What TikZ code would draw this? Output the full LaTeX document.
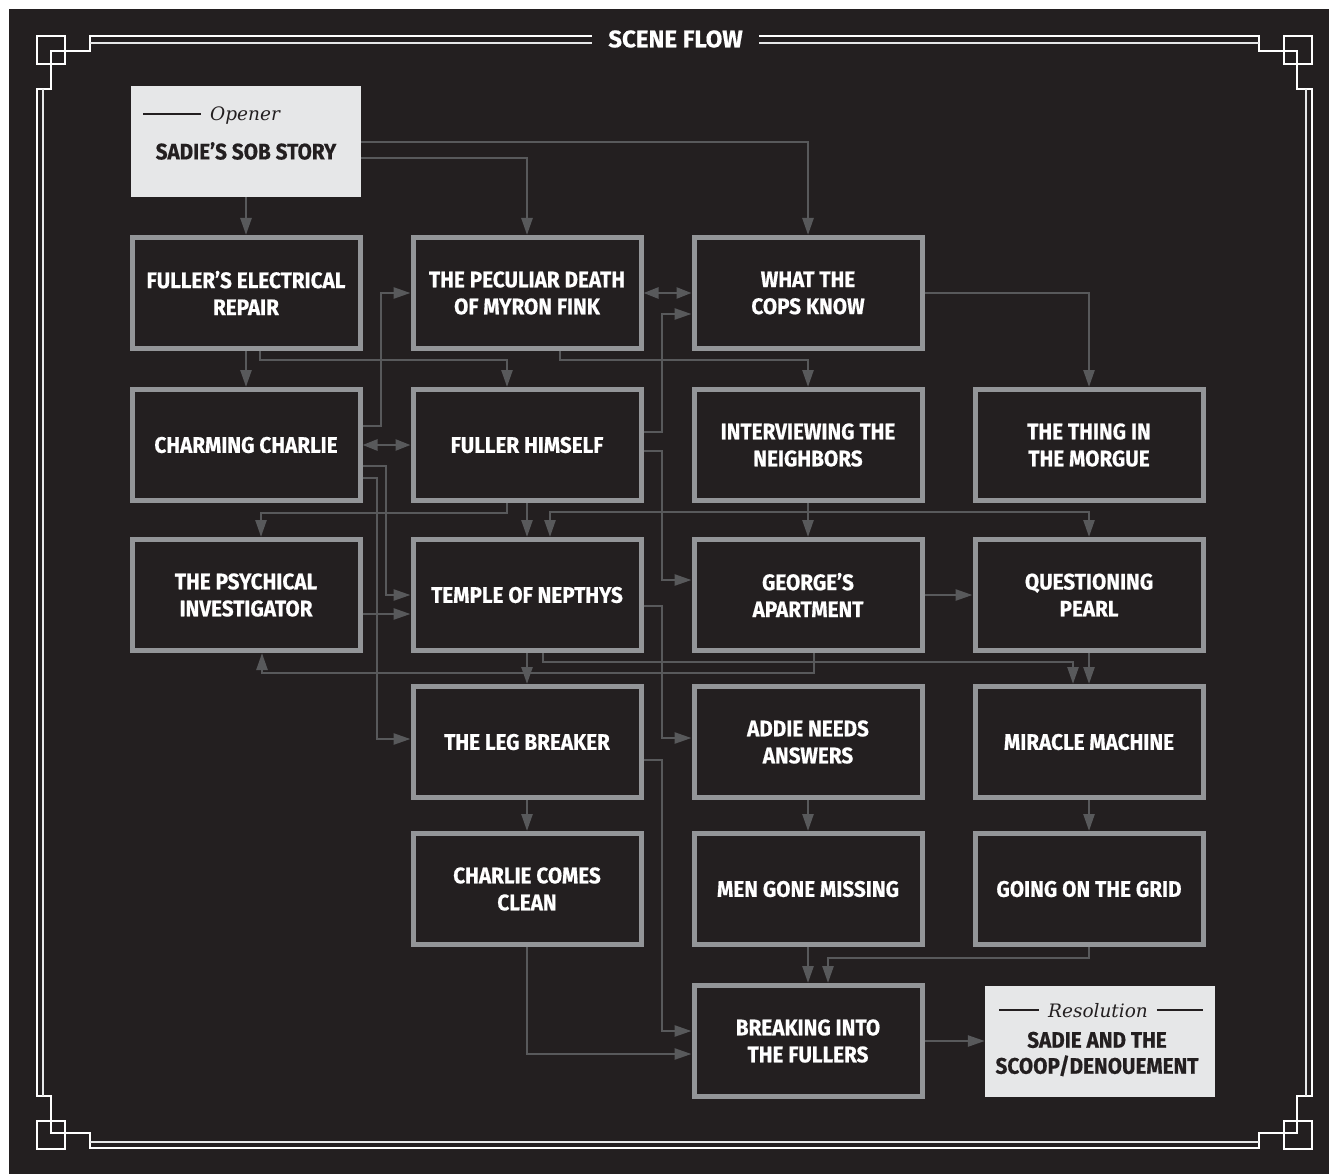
\documentclass[tikz,border=0pt]{standalone}
\usepackage{fontspec}
\usepackage{tikz}
\usetikzlibrary{arrows.meta}
\usepackage{xcolor}

\definecolor{bgdark}{HTML}{231F20}
\definecolor{boxgray}{HTML}{939598}
\definecolor{linkgray}{HTML}{58595B}
\definecolor{paper}{HTML}{E6E7E8}

\newfontfamily\scenefont[FakeStretch=0.92,FakeBold=0.6]{Fira Sans}
\newfontfamily\headfont[FakeBold=0.6]{Fira Sans}
\newfontfamily\tagfont{DejaVu Serif}

\begin{document}
\begin{tikzpicture}[x=1pt,y=-1pt]
  \tikzstyle{SceneStyle}=[draw=boxgray, line width=5pt, fill=bgdark, text=white, minimum width=228pt, minimum height=111pt, align=center, inner sep=0pt, font=\scenefont\bfseries\fontsize{22.5pt}{27pt}\selectfont]
  \tikzstyle{EndStyle}=[fill=paper, minimum width=230pt, minimum height=111pt, inner sep=0pt]
  \tikzstyle{EndText}=[text=bgdark, align=center, inner sep=0pt, font=\scenefont\bfseries\fontsize{22.5pt}{26pt}\selectfont]
  \tikzstyle{TagStyle}=[text=bgdark, inner sep=0pt, font=\tagfont\itshape\fontsize{18.5pt}{20pt}\selectfont]
  \tikzstyle{FlowStyle}=[draw=linkgray, line width=2.5pt, -{Triangle[length=17pt,width=11pt]}]
  \tikzstyle{BothStyle}=[draw=linkgray, line width=2.5pt, {Triangle[length=15pt,width=11pt]}-{Triangle[length=15pt,width=11pt]}]
  \tikzstyle{FrameStyle}=[draw=white, line width=2.4pt]
  \tikzstyle{InnerStyle}=[draw=paper, line width=1.4pt]

  \useasboundingbox (0,0) rectangle (1329,1174);
  \fill[white] (0,0) rectangle (1329,1174);
  \fill[bgdark] (9,9) rectangle (1329,1174);

  \draw[FrameStyle] (37,89) -- (51,89) -- (51,51) -- (90,51) -- (90,36) -- (1259,36) -- (1259,51) -- (1297,51) -- (1297,89) -- (1312,89) -- (1312,1096) -- (1297,1096) -- (1297,1133) -- (1259,1133) -- (1259,1148) -- (90,1148) -- (90,1133) -- (51,1133) -- (51,1096) -- (37,1096) -- cycle;
  \draw[FrameStyle] (37,36) rectangle (65,64);
  \draw[FrameStyle] (1284,36) rectangle (1312,64);
  \draw[FrameStyle] (37,1121) rectangle (65,1149);
  \draw[FrameStyle] (1284,1121) rectangle (1312,1149);
  \draw[InnerStyle] (90,43) -- (1259,43);
  \draw[InnerStyle] (43,89) -- (43,1096);
  \draw[InnerStyle] (1306,89) -- (1306,1096);
  \draw[InnerStyle] (90,1142) -- (1259,1142);
  \node[fill=bgdark, text=white, minimum width=167pt, inner ysep=5pt, font=\headfont\bfseries\fontsize{24pt}{26pt}\selectfont] (title) at (675.5,39) {SCENE FLOW};

  \node[EndStyle] (opener) at (246,141.5) {};
  \node[TagStyle, anchor=base west] (openertag) at (143,121) {\rule[6pt]{58pt}{2.4pt}\hspace{9pt}Opener};
  \node[EndText] (openertitle) at (246,151) {SADIE’S SOB STORY};

  \node[SceneStyle] (repair) at (246,293) {FULLER’S ELECTRICAL\\REPAIR};
  \node[SceneStyle] (peculiar) at (527,293) {THE PECULIAR DEATH\\OF MYRON FINK};
  \node[SceneStyle] (cops) at (808,293) {WHAT THE\\COPS KNOW};
  \node[SceneStyle] (charlie) at (246,445) {CHARMING CHARLIE};
  \node[SceneStyle] (himself) at (527,445) {FULLER HIMSELF};
  \node[SceneStyle] (neighbors) at (808,445) {INTERVIEWING THE\\NEIGHBORS};
  \node[SceneStyle] (morgue) at (1089,445) {THE THING IN\\THE MORGUE};
  \node[SceneStyle] (psychical) at (246,595) {THE PSYCHICAL\\INVESTIGATOR};
  \node[SceneStyle] (temple) at (527,595) {TEMPLE OF NEPTHYS};
  \node[SceneStyle] (george) at (808,595) {GEORGE’S\\APARTMENT};
  \node[SceneStyle] (pearl) at (1089,595) {QUESTIONING\\PEARL};
  \node[SceneStyle] (legbreaker) at (527,742) {THE LEG BREAKER};
  \node[SceneStyle] (addie) at (808,742) {ADDIE NEEDS\\ANSWERS};
  \node[SceneStyle] (miracle) at (1089,742) {MIRACLE MACHINE};
  \node[SceneStyle] (clean) at (527,889) {CHARLIE COMES\\CLEAN};
  \node[SceneStyle] (missing) at (808,889) {MEN GONE MISSING};
  \node[SceneStyle] (grid) at (1089,889) {GOING ON THE GRID};
  \node[SceneStyle] (breakin) at (808,1041) {BREAKING INTO\\THE FULLERS};

  \node[EndStyle] (resolution) at (1100,1041) {};
  \node[TagStyle, anchor=base] (resolutiontag) at (1101,1017) {\rule[6pt]{40pt}{2.4pt}\hspace{9pt}Resolution\hspace{9pt}\rule[6pt]{46pt}{2.4pt}};
  \node[EndText] (resolutiontitle) at (1097,1054) {SADIE AND THE\\SCOOP/DENOUEMENT};

  \draw[FlowStyle] (opener.south) -- (repair.north);
  \draw[FlowStyle] (opener.east |- 0,158) -| (peculiar.north);
  \draw[FlowStyle] (opener.east |- 0,142) -| (cops.north);
  \draw[BothStyle] (peculiar.east) -- (cops.west);
  \draw[FlowStyle] (repair.south) -- (charlie.north);
  \draw[FlowStyle] (repair.south -| 260,0) -- (260,360) -| (himself.north -| 507,0);
  \draw[FlowStyle] (peculiar.south -| 560,0) -- (560,360) -| (neighbors.north);
  \draw[FlowStyle] (cops.east) -| (morgue.north);
  \draw[FlowStyle] (charlie.east |- 0,426) -- (381,426) |- (peculiar.west);
  \draw[BothStyle] (charlie.east) -- (himself.west);
  \draw[FlowStyle] (himself.east |- 0,432) -- (662,432) |- (cops.west |- 0,314);
  \draw[FlowStyle] (himself.east |- 0,451) -- (662,451) |- (george.west |- 0,580);
  \draw[FlowStyle] (charlie.east |- 0,466) -- (386,466) |- (temple.west);
  \draw[FlowStyle] (charlie.east |- 0,478) -- (377,478) |- (legbreaker.west |- 0,739);
  \draw[FlowStyle] (himself.south -| 507,0) -- (507,513) -| (psychical.north -| 261,0);
  \draw[FlowStyle] (himself.south) -- (temple.north);
  \draw[FlowStyle] (neighbors.south) -- (george.north);
  \draw[FlowStyle] (neighbors.south |- 0,512) -| (temple.north -| 550,0);
  \draw[FlowStyle] (neighbors.south |- 0,512) -| (pearl.north);
  \draw[FlowStyle] (psychical.east |- 0,614) -- (temple.west |- 0,614);
  \draw[FlowStyle] (george.east) -- (pearl.west);
  \draw[FlowStyle] (temple.east |- 0,606) -- (662,606) |- (addie.west |- 0,738);
  \draw[FlowStyle] (temple.south) -- (legbreaker.north);
  \draw[FlowStyle] (temple.south -| 543,0) -- (543,662) -| (miracle.north -| 1073,0);
  \draw[FlowStyle] (george.south -| 814,0) -- (814,673) -| (psychical.south -| 262,0);
  \draw[FlowStyle] (pearl.south) -- (miracle.north);
  \draw[FlowStyle] (legbreaker.south) -- (clean.north);
  \draw[FlowStyle] (addie.south) -- (missing.north);
  \draw[FlowStyle] (miracle.south) -- (grid.north);
  \draw[FlowStyle] (legbreaker.east |- 0,760) -- (662,760) |- (breakin.west |- 0,1031);
  \draw[FlowStyle] (clean.south) |- (breakin.west |- 0,1054);
  \draw[FlowStyle] (missing.south) -- (breakin.north);
  \draw[FlowStyle] (grid.south) -- (1089,958) -| (breakin.north -| 828,0);
  \draw[FlowStyle] (breakin.east) -- (resolution.west);
\end{tikzpicture}
\end{document}
